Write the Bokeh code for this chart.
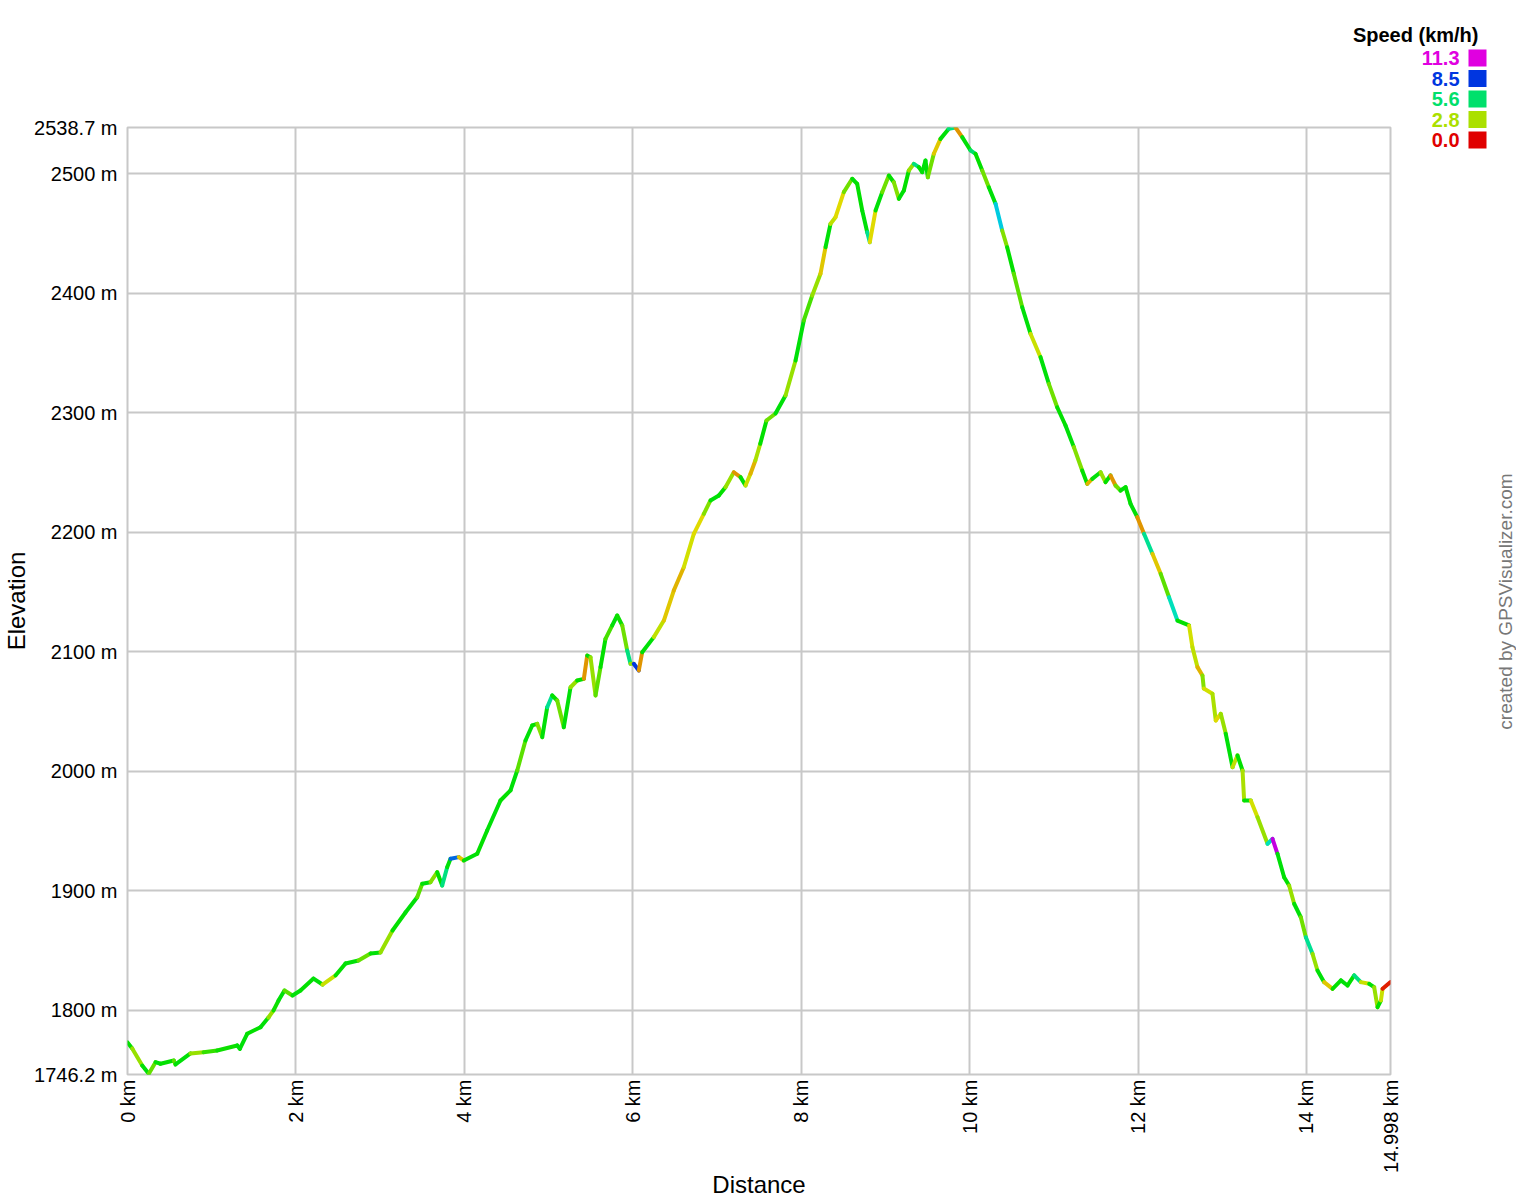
import colorsys
from math import pi

from bokeh.plotting import figure
from bokeh.layouts import column, row
from bokeh.models import (ColumnDataSource, FixedTicker, Range1d, CustomJSTickFormatter)
from bokeh.core.properties import value
from bokeh.embed import file_html
from bokeh.resources import INLINE

# ---------------- data ----------------
distance_km = [
    0.000, 0.056, 0.175, 0.253, 0.333, 0.392, 0.550, 0.570, 0.748, 0.903,
    1.065, 1.303, 1.334, 1.421, 1.579, 1.674, 1.734, 1.793, 1.864, 1.959,
    2.054, 2.209, 2.316, 2.470, 2.589, 2.743, 2.886, 3.004, 3.147, 3.301,
    3.440, 3.500, 3.598, 3.678, 3.737, 3.796, 3.836, 3.934, 3.994, 4.153,
    4.271, 4.429, 4.548, 4.628, 4.726, 4.806, 4.865, 4.925, 4.984, 5.043,
    5.103, 5.181, 5.261, 5.340, 5.419, 5.459, 5.498, 5.558, 5.617, 5.676,
    5.756, 5.815, 5.875, 5.934, 5.973, 6.012, 6.072, 6.112, 6.250, 6.369,
    6.487, 6.606, 6.725, 6.844, 6.923, 7.022, 7.101, 7.200, 7.279, 7.339,
    7.398, 7.456, 7.514, 7.588, 7.695, 7.814, 7.933, 8.031, 8.131, 8.229,
    8.289, 8.348, 8.408, 8.506, 8.606, 8.665, 8.725, 8.784, 8.815, 8.883,
    8.962, 9.041, 9.100, 9.160, 9.219, 9.278, 9.338, 9.397, 9.437, 9.476,
    9.504, 9.575, 9.654, 9.753, 9.833, 9.912, 10.011, 10.070, 10.150, 10.228,
    10.308, 10.387, 10.446, 10.525, 10.625, 10.723, 10.842, 10.941, 11.040, 11.139,
    11.238, 11.337, 11.397, 11.456, 11.555, 11.614, 11.673, 11.733, 11.792, 11.852,
    11.911, 11.991, 12.071, 12.171, 12.269, 12.368, 12.468, 12.606, 12.646, 12.706,
    12.765, 12.781, 12.884, 12.923, 12.983, 13.042, 13.122, 13.181, 13.241, 13.260,
    13.339, 13.419, 13.538, 13.597, 13.656, 13.735, 13.794, 13.854, 13.933, 13.993,
    14.072, 14.131, 14.210, 14.310, 14.409, 14.488, 14.567, 14.646, 14.745, 14.804,
    14.844, 14.884, 14.904, 14.998,
]

elevation_m = [
    1773.0, 1768.0, 1753.7, 1746.8, 1756.5, 1755.2, 1757.9, 1754.6, 1763.8, 1764.9,
    1766.3, 1770.5, 1767.7, 1780.3, 1785.8, 1793.9, 1799.8, 1808.1, 1816.5, 1812.3,
    1816.5, 1826.5, 1821.5, 1829.1, 1839.1, 1841.6, 1847.5, 1848.3, 1866.7, 1881.8,
    1894.6, 1905.8, 1907.1, 1915.5, 1904.4, 1919.7, 1926.7, 1928.1, 1925.3, 1930.9,
    1950.4, 1975.5, 1983.9, 2000.6, 2025.7, 2038.3, 2039.7, 2028.5, 2053.6, 2063.4,
    2059.2, 2036.8, 2070.3, 2075.9, 2077.3, 2096.8, 2095.4, 2063.4, 2087.1, 2110.8,
    2122.0, 2130.3, 2122.0, 2101.0, 2089.9, 2089.9, 2084.3, 2099.6, 2112.2, 2126.1,
    2151.2, 2170.7, 2198.7, 2215.4, 2226.6, 2230.7, 2237.7, 2250.2, 2246.1, 2239.1,
    2248.9, 2260.0, 2274.0, 2293.5, 2299.4, 2314.4, 2343.7, 2377.2, 2398.1, 2416.3,
    2438.5, 2458.1, 2463.6, 2484.6, 2495.8, 2491.6, 2469.2, 2451.1, 2442.7, 2469.2,
    2484.6, 2498.5, 2492.9, 2479.0, 2486.0, 2502.7, 2508.3, 2505.5, 2501.3, 2511.1,
    2497.1, 2516.7, 2529.2, 2537.6, 2538.7, 2530.6, 2519.5, 2516.7, 2502.7, 2488.7,
    2474.8, 2452.5, 2438.5, 2416.3, 2388.3, 2366.1, 2346.5, 2324.2, 2304.6, 2289.3,
    2271.2, 2251.7, 2240.5, 2244.7, 2250.2, 2241.9, 2247.5, 2239.1, 2234.9, 2237.7,
    2223.8, 2212.6, 2198.7, 2182.0, 2165.2, 2145.6, 2126.1, 2122.0, 2103.8, 2087.1,
    2080.1, 2069.2, 2064.8, 2042.5, 2048.1, 2031.3, 2003.4, 2013.2, 2000.6, 1975.5,
    1975.5, 1961.5, 1939.3, 1943.4, 1930.9, 1911.3, 1904.4, 1889.1, 1877.8, 1861.1,
    1847.2, 1833.2, 1823.5, 1817.9, 1824.9, 1820.7, 1829.1, 1823.5, 1822.1, 1819.3,
    1802.5, 1808.1, 1817.9, 1823.5,
]

# speed (km/h) of each segment between consecutive points
speed_kmh = [
    4.5, 3.0,
    4.6, 3.5, 4.6,
    4.5, 3.6, 4.6, 3.0, 4.0, 4.4, 4.6, 4.6,
    4.5, 4.6, 3.0, 4.4, 4.6, 3.6, 4.6, 4.5,
    4.6, 2.5, 4.5, 4.6, 3.5, 4.6, 3.0, 4.5, 4.6, 3.6,
    4.6, 3.2, 4.5, 5.8, 4.6, 8.0, 2.0, 4.6, 4.5, 4.6,
    4.5, 4.6, 3.6, 4.6, 4.5, 3.2, 4.6, 6.0, 4.5, 3.4,
    4.6, 3.0, 4.5, 1.5, 4.6, 3.0, 3.6, 4.5, 3.8, 4.6,
    4.4, 3.4, 5.8, 3.0, 8.5, 1.5, 4.6, 2.6, 2.0, 1.8,
    2.4, 2.2, 3.2, 4.6, 4.5, 3.0, 1.5, 4.6, 2.5, 1.8,
    2.8, 4.5, 3.4, 4.6, 3.0, 4.6, 3.8, 3.0, 2.0, 4.6,
    2.6, 2.2, 3.4, 4.6, 4.5, 4.6, 6.0, 2.2, 4.6, 3.4,
    4.5, 3.2, 4.6, 4.5, 3.0, 5.8, 4.5, 4.6, 4.6, 3.4,
    2.0, 4.6, 5.8, 1.5, 4.6, 5.6, 4.5, 3.4, 4.6, 7.0,
    3.2, 4.5, 3.6, 4.6, 2.5, 4.6, 3.4, 4.5, 4.6, 3.2,
    4.5, 1.8, 4.6, 3.0, 4.5, 1.5, 3.4, 4.6, 4.5, 4.6,
    1.5, 6.0, 2.0, 3.6, 6.4, 4.5, 2.4, 2.6, 1.8, 3.2,
    2.4, 2.8, 2.2, 3.0, 4.6, 2.6, 4.5, 2.8, 4.6, 2.4,
    3.0, 6.4, 11.0, 4.6, 4.5, 3.0, 4.6, 3.4, 6.0, 3.0,
    4.6, 2.0, 4.5, 4.6, 4.5, 5.8, 2.5, 4.6, 3.0, 4.5, 2.5, 0.3,
]

legend_speeds = [11.3, 8.5, 5.6, 2.8, 0.0]
legend_labels = ["11.3", "8.5", "5.6", "2.8", "0.0"]
x_ticks = [0, 2, 4, 6, 8, 10, 12, 14, 14.998]
y_ticks = [1746.2, 1800, 1900, 2000, 2100, 2200, 2300, 2400, 2500, 2538.7]
x_min, x_max = 0.0, 14.998
y_min, y_max = 1746.2, 2538.7
speed_max = 11.3


def speed_color(s):
    h = max(0.0, min(s, speed_max)) / speed_max * 300.0 / 360.0
    r, g, b = colorsys.hsv_to_rgb(h, 1.0, 0.88)
    return "#%02x%02x%02x" % (round(r * 255), round(g * 255), round(b * 255))


FONT = "Liberation Sans"
GRID = "#c8c8c8"
W, H = 1516, 1200
TOP_H = 46           # strip above the main plot (legend title)
RIGHT_W = 106        # strip right of the main plot (legend entries, credit)
MAIN_W, MAIN_H = W - RIGHT_W, H - TOP_H

# ---------------- main elevation profile ----------------
n_seg = len(distance_km) - 1
spd = (speed_kmh + [4.5] * n_seg)[:n_seg]
src = ColumnDataSource(dict(
    x0=distance_km[:-1], y0=elevation_m[:-1],
    x1=distance_km[1:], y1=elevation_m[1:],
    color=[speed_color(s) for s in spd],
))

p = figure(width=MAIN_W, height=MAIN_H, output_backend="svg", toolbar_location=None,
           x_range=Range1d(x_min, x_max), y_range=Range1d(y_min, y_max),
           min_border_left=127, min_border_right=MAIN_W - 1390,
           min_border_top=127 - TOP_H, min_border_bottom=H - 1074,
           frame_align=False)
p.background_fill_color = "white"
p.border_fill_color = "white"
p.outline_line_color = GRID
p.outline_line_width = 2

p.xaxis.ticker = FixedTicker(ticks=x_ticks)
p.yaxis.ticker = FixedTicker(ticks=y_ticks)
p.xaxis.formatter = CustomJSTickFormatter(code="return tick + ' km'")
p.yaxis.formatter = CustomJSTickFormatter(code="return tick + ' m'")
for ax in (p.xaxis, p.yaxis):
    ax.axis_line_color = None
    ax.major_tick_line_color = None
    ax.minor_tick_line_color = None
    ax.major_tick_out = 0
    ax.major_tick_in = 0
    ax.major_label_text_font = FONT
    ax.major_label_text_font_size = "20px"
    ax.major_label_text_color = "black"
    ax.axis_label_text_font = FONT
    ax.axis_label_text_font_size = "24px"
    ax.axis_label_text_font_style = "normal"
    ax.axis_label_text_color = "black"
p.xaxis.major_label_orientation = pi / 2
p.xaxis.major_label_standoff = 5
p.xaxis.axis_label = "Distance"
p.xaxis.axis_label_standoff = -5
p.yaxis.major_label_standoff = 10
p.yaxis.axis_label = "Elevation"
p.yaxis.axis_label_standoff = 1

p.xgrid.grid_line_color = GRID
p.ygrid.grid_line_color = GRID
p.xgrid.grid_line_width = 2
p.ygrid.grid_line_width = 2

p.segment(x0="x0", y0="y0", x1="x1", y1="y1", color="color", line_width=4,
          line_cap="round", source=src)


# ---------------- decoration strips (in pixel coordinates of the page) ----------------
def strip(width, height, x0, x1, y0, y1):
    f = figure(width=width, height=height, output_backend="svg", toolbar_location=None,
               x_range=Range1d(x0, x1), y_range=Range1d(y1, y0),
               x_axis_location=None, y_axis_location=None, min_border=0,
               frame_align=False)
    f.grid.visible = False
    f.outline_line_color = None
    f.background_fill_color = "white"
    f.border_fill_color = "white"
    return f


top = strip(W, TOP_H, 0, W, 0, TOP_H)
side = strip(RIGHT_W, MAIN_H, MAIN_W, W, TOP_H, H)

top.text(x=[1478], y=[34], text=["Speed (km/h)"], text_align="right",
         text_baseline="middle", text_font=value(FONT), text_font_size="20px",
         text_font_style="bold", text_color="black")

leg_cols = [speed_color(s) for s in legend_speeds]
leg_y = [57.5, 78, 98.5, 119, 139.5]
side.text(x=[1459] * len(legend_labels), y=leg_y, text=legend_labels, text_color=leg_cols,
          text_align="right", text_baseline="middle", text_font=value(FONT),
          text_font_size="20px", text_font_style="bold")
side.rect(x=[1477] * len(legend_labels), y=leg_y, width=18, height=17,
          fill_color=leg_cols, line_color=None)

side.text(x=[1505], y=[601], text=["created by GPSVisualizer.com"], angle=pi / 2,
          text_align="center", text_baseline="middle", text_font=value(FONT),
          text_font_size="19px", text_color="#777777")

layout = column(top, row(p, side, spacing=0), spacing=0)
open("out.html", "w").write(file_html(layout, INLINE))
